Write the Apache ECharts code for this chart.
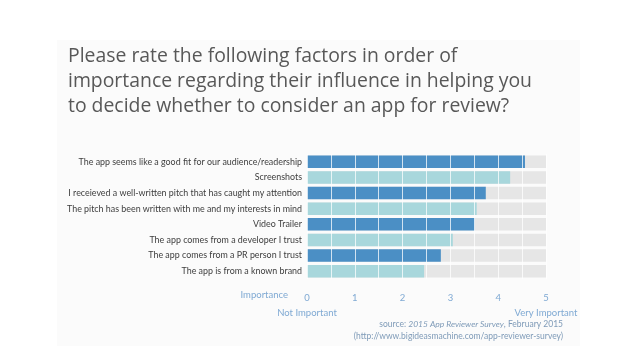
<!DOCTYPE html>
<html><head><meta charset="utf-8">
<script src="https://cdn.jsdelivr.net/npm/echarts@6/dist/echarts.min.js"></script>
<style>html,body{margin:0;padding:0;background:#fff}#c{width:638px;height:359px}</style>
</head><body><div id="c"></div>
<script>
const categories = [
  "The app seems like a good fit for our audience/readership",
  "Screenshots",
  "I receieved a well-written pitch that has caught my attention",
  "The pitch has been written with me and my interests in mind",
  "Video Trailer",
  "The app comes from a developer I trust",
  "The app comes from a PR person I trust",
  "The app is from a known brand"
];
const values = [4.56, 4.25, 3.74, 3.55, 3.51, 3.05, 2.80, 2.45];
const maxScore = 5;
const tickLabels = {0: "0\n{s|Not Important}", 1: "1", 2: "2", 3: "3", 4: "4", 5: "5\n{s|Very Important}"};

const dark = '#4b8fc5', light = '#a8d7dc';
const chart = echarts.init(document.getElementById('c'), null, {renderer: 'canvas'});
chart.setOption({
  backgroundColor: '#ffffff',
  animation: false,
  grid: {left: 307, right: 92, top: 154, bottom: 80},
  xAxis: {
    type: 'value', min: 0, max: maxScore, interval: 0.5, z: 10,
    axisLine: {show: false}, axisTick: {show: false},
    splitLine: {show: true, lineStyle: {color: 'rgba(255,255,255,0.75)', width: 1}},
    axisLabel: {
      margin: 11, color: '#7fa9d3', fontFamily: 'Lato', fontSize: 9.5, lineHeight: 15,
      formatter: v => (Number.isInteger(v) ? tickLabels[v] : ''),
      rich: {s: {color: '#7fa9d3', fontFamily: 'Lato', fontSize: 9.5, lineHeight: 15}}
    }
  },
  yAxis: {
    type: 'category', data: categories, inverse: true,
    axisLine: {show: false}, axisTick: {show: false},
    axisLabel: {margin: 5, color: '#3d3d3d', fontFamily: 'Lato', fontSize: 8.9}
  },
  graphic: [
    {type: 'rect', z: -10, shape: {x: 57, y: 40, width: 523, height: 306}, style: {fill: '#fbfbfb'}},
    {type: 'text', left: 68, top: 44, style: {
      text: 'Please rate the following factors in order of\nimportance regarding their influence in helping you\nto decide whether to consider an app for review?',
      fontFamily: 'Open Sans', fontSize: 19.4, lineHeight: 25, fill: '#585858'}},
    {type: 'text', right: 638 - 288, top: 290, style: {text: 'Importance', fontFamily: 'Lato', fontSize: 9.5, fill: '#7fa9d3', align: 'right'}},
    {type: 'text', right: 638 - 563, top: 320, style: {
      text: 'source: {i|2015 App Reviewer Survey}, February 2015',
      fontFamily: 'Lato', fontSize: 8.5, fill: '#7f9bb8', align: 'right',
      rich: {i: {fontStyle: 'italic', fontFamily: 'Lato', fontSize: 8.5, fill: '#7f9bb8'}}}},
    {type: 'text', right: 638 - 563, top: 332, style: {
      text: '(http://www.bigideasmachine.com/app-reviewer-survey)',
      fontFamily: 'Lato', fontSize: 8.5, fill: '#7f9bb8', align: 'right'}}
  ],
  series: [
    {type: 'bar', barWidth: 12.6, silent: true, z: 1,
     data: categories.map(() => maxScore), itemStyle: {color: '#e6e6e6'}},
    {type: 'bar', barWidth: 12.6, barGap: '-100%', z: 2,
     data: values.map((v, i) => ({value: v, itemStyle: {color: i % 2 === 0 ? dark : light}}))}
  ]
});
</script></body></html>
